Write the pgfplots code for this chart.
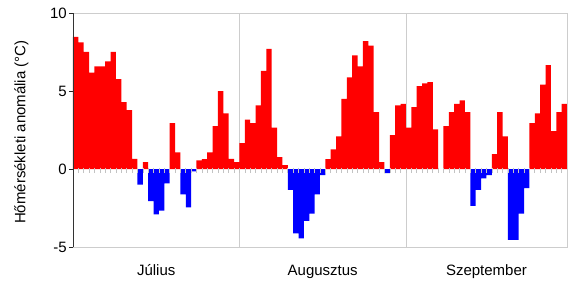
\documentclass[border=0pt]{standalone}
\usepackage{pgfplots}
\pgfplotsset{compat=1.18}
\usepackage{fontspec}
\setmainfont{Liberation Sans}
\definecolor{frame}{RGB}{205,205,205}
\definecolor{tickg}{RGB}{195,195,195}
\begin{document}
\begin{tikzpicture}
\path[use as bounding box] (-73pt,-34pt) rectangle (496pt,247pt);
\begin{axis}[
  at={(0,0)}, anchor=south west,
  scale only axis, width=494pt, height=233.7pt,
  xmin=0, xmax=92, ymin=-5, ymax=10,
  xtick=\empty, ytick={-5,0,5,10}, ytick pos=left,
  tick align=outside, major tick length=4pt,
  ytick style={black!85, line width=0.6pt},
  axis line style={draw=none},
  clip=false,
  /pgf/number format/assume math mode=true,
  yticklabel style={font=\fontsize{15}{17}\selectfont, inner xsep=2pt},
  ybar, bar width=1, bar shift=0,
]
\draw[frame, line width=0.8pt] (axis cs:31,-5) -- (axis cs:31,10);
\draw[frame, line width=0.8pt] (axis cs:62,-5) -- (axis cs:62,10);
\addplot[fill=red, draw=none] coordinates {
(0.5,8.48) (1.5,8.14) (2.5,7.52) (3.5,6.19) (4.5,6.6) (5.5,6.6) (6.5,6.92) (7.5,7.52)
(8.5,5.78) (9.5,4.30) (10.5,3.79) (11.5,0.66) (13.5,0.45) (18.5,2.95) (19.5,1.07)
(23.5,0.56) (24.5,0.64) (25.5,1.07) (26.5,2.76) (27.5,5.01) (28.5,3.58) (29.5,0.66) (30.5,0.45)
(31.5,1.67) (32.5,3.17) (33.5,2.95) (34.5,4.09) (35.5,6.30) (36.5,7.71) (37.5,2.66) (38.5,0.77) (39.5,0.26)
(47.5,0.64) (48.5,1.26) (49.5,2.10) (50.5,4.50) (51.5,5.89) (52.5,7.30) (53.5,6.6) (54.5,8.22) (55.5,7.92)
(56.5,3.66) (57.5,0.45) (59.5,2.18) (60.5,4.09) (61.5,4.18)
(62.5,2.66) (63.5,3.98) (64.5,5.33) (65.5,5.50) (66.5,5.59) (67.5,2.55)
(69.5,2.76) (70.5,3.66) (71.5,4.18) (72.5,4.41) (73.5,3.66)
(78.5,0.96) (79.5,3.66) (80.5,2.10)
(85.5,2.95) (86.5,3.58) (87.5,5.42) (88.5,6.68) (89.5,2.44) (90.5,3.66) (91.5,4.18)
};
\addplot[fill=blue, draw=none] coordinates {
(12.5,-1.0) (14.5,-2.06) (15.5,-2.9) (16.5,-2.66) (17.5,-0.92)
(20.5,-1.63) (21.5,-2.46) (22.5,-0.15)
(40.5,-1.33) (41.5,-4.13) (42.5,-4.45) (43.5,-3.32) (44.5,-2.85) (45.5,-1.63) (46.5,-0.39)
(58.5,-0.26)
(74.5,-2.36) (75.5,-1.33) (76.5,-0.6) (77.5,-0.39)
(81.5,-4.54) (82.5,-4.54) (83.5,-2.85) (84.5,-1.22)
};
\pgfplotsinvokeforeach{1,...,91}{
  \draw[tickg, line width=0.6pt] ([yshift=1.5pt]axis cs:#1,0) -- ([yshift=-4pt]axis cs:#1,0);
}
\draw[frame, line width=0.8pt] (axis cs:0,10) -- (axis cs:92,10) -- (axis cs:92,-5) -- (axis cs:0,-5);
\draw[black!80, line width=0.7pt] (axis cs:0,-5) -- (axis cs:0,10);
\node[anchor=base, font=\fontsize{15}{17}\selectfont] at ([yshift=-28pt]axis cs:15.5,-5) {Július};
\node[anchor=base, font=\fontsize{15}{17}\selectfont] at ([yshift=-28pt]axis cs:46.5,-5) {Augusztus};
\node[anchor=base, font=\fontsize{15}{17}\selectfont] at ([yshift=-28pt]axis cs:77,-5) {Szeptember};
\node[rotate=90, font=\fontsize{15}{17}\selectfont] at ([xshift=-51.5pt,yshift=-2pt]rel axis cs:0,0.5) {Hőmérsékleti anomália (°C)};
\end{axis}
\end{tikzpicture}
\end{document}
